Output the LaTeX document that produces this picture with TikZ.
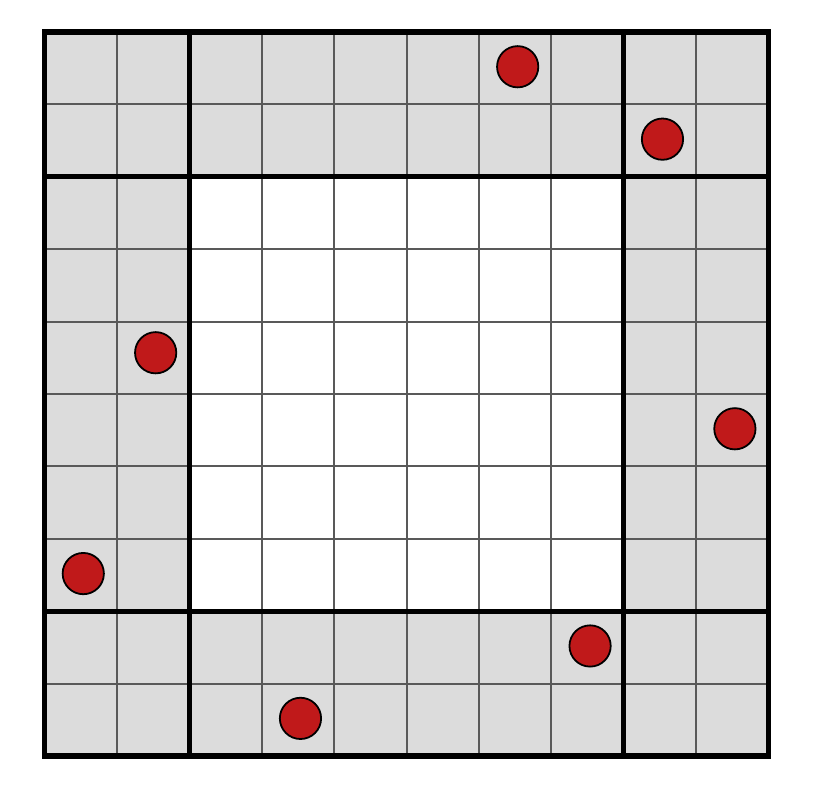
\documentclass[tikz,border=0pt]{standalone}
\begin{document}
\begin{tikzpicture}[x=1cm,y=-1cm,
  thin grid/.style={draw=black!65,line width=0.8pt},
  thick grid/.style={draw=black,line width=2pt},
  token/.style={circle,draw=black,line width=0.7pt,fill=tokred,minimum size=0.57cm,inner sep=0pt}]
\definecolor{tokred}{HTML}{C0191A}
\definecolor{bordergray}{HTML}{DCDCDC}
\useasboundingbox[fill=white] (-0.615,-0.442) rectangle (10.904,10.497);
\fill[bordergray] (0,0) rectangle (10,10);
\fill[white] (2,2) rectangle (8,8);
\foreach \i in {1,...,9} {
  \draw[thin grid] (\i,0) -- (\i,10);
  \draw[thin grid] (0,\i) -- (10,\i);
}
\draw[thick grid] (2,0) -- (2,10);
\draw[thick grid] (8,0) -- (8,10);
\draw[thick grid] (0,2) -- (10,2);
\draw[thick grid] (0,8) -- (10,8);
\draw[thick grid] (0,0) rectangle (10,10);
\node[token] (t1) at (6.535,0.48) {};
\node[token] (t2) at (8.535,1.48) {};
\node[token] (t3) at (1.535,4.43) {};
\node[token] (t4) at (9.535,5.48) {};
\node[token] (t5) at (0.535,7.48) {};
\node[token] (t6) at (7.535,8.48) {};
\node[token] (t7) at (3.535,9.48) {};
\end{tikzpicture}
\end{document}
